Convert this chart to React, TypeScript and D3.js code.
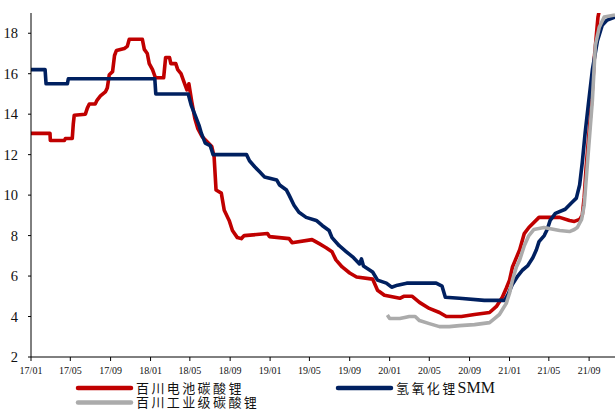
import React from "react";
import * as d3 from "d3";

// Lithium price series (万元/吨)
const batteryCarbonate: [string, number][] = [
  ["2017-01-01", 13.05], ["2017-02-28", 13.05], ["2017-03-01", 12.7], ["2017-04-13", 12.7],
  ["2017-04-16", 12.8], ["2017-05-07", 12.8], ["2017-05-10", 13.5], ["2017-05-13", 13.95],
  ["2017-06-16", 14.0], ["2017-06-22", 14.3], ["2017-06-28", 14.5], ["2017-07-16", 14.5],
  ["2017-07-22", 14.7], ["2017-08-01", 14.9], ["2017-08-16", 15.1], ["2017-08-22", 15.3],
  ["2017-08-28", 15.95], ["2017-09-07", 16.1], ["2017-09-13", 16.9], ["2017-09-19", 17.15],
  ["2017-10-13", 17.25], ["2017-10-22", 17.35], ["2017-10-28", 17.7], ["2017-12-07", 17.7],
  ["2017-12-13", 17.2], ["2017-12-22", 17.0], ["2017-12-28", 16.5], ["2018-01-07", 16.2],
  ["2018-01-16", 15.8], ["2018-02-10", 15.8], ["2018-02-16", 16.8], ["2018-02-28", 16.8],
  ["2018-03-04", 16.5], ["2018-03-19", 16.5], ["2018-03-25", 16.2], ["2018-04-04", 16.0],
  ["2018-04-13", 15.6], ["2018-04-22", 15.2], ["2018-04-28", 15.5], ["2018-05-07", 14.6],
  ["2018-05-16", 13.8], ["2018-05-25", 13.3], ["2018-06-07", 12.9], ["2018-06-19", 12.7],
  ["2018-07-07", 12.4], ["2018-07-14", 11.9], ["2018-07-20", 10.25], ["2018-08-05", 10.1],
  ["2018-08-14", 9.25], ["2018-08-29", 8.75], ["2018-09-08", 8.25], ["2018-09-23", 7.9],
  ["2018-10-05", 7.85], ["2018-10-14", 8.0], ["2018-11-21", 8.05], ["2018-12-24", 8.1],
  ["2018-12-30", 7.95], ["2019-02-28", 7.85], ["2019-03-09", 7.65], ["2019-05-09", 7.8],
  ["2019-05-31", 7.6], ["2019-06-21", 7.4], ["2019-07-09", 7.2], ["2019-07-21", 6.8],
  ["2019-08-09", 6.45], ["2019-09-01", 6.15], ["2019-09-22", 5.95], ["2019-11-10", 5.85],
  ["2019-11-25", 5.3], ["2019-12-16", 5.05], ["2020-01-01", 5.0], ["2020-02-01", 4.9],
  ["2020-02-13", 5.0], ["2020-03-10", 5.0], ["2020-04-01", 4.7], ["2020-05-01", 4.4],
  ["2020-06-01", 4.2], ["2020-06-22", 4.0], ["2020-08-07", 4.0], ["2020-09-16", 4.1],
  ["2020-11-01", 4.2], ["2020-11-22", 4.5], ["2020-12-10", 4.95], ["2020-12-22", 5.4],
  ["2021-01-01", 5.8], ["2021-01-10", 6.45], ["2021-01-19", 6.8], ["2021-02-01", 7.3],
  ["2021-02-15", 8.1], ["2021-03-01", 8.4], ["2021-04-01", 8.9], ["2021-06-03", 8.9],
  ["2021-07-03", 8.75], ["2021-07-18", 8.7], ["2021-08-03", 8.8], ["2021-08-11", 9.0],
  ["2021-08-17", 9.9], ["2021-08-23", 11.4], ["2021-09-08", 14.5], ["2021-09-17", 16.8],
  ["2021-09-28", 18.8], ["2021-10-07", 19.5],
];

const hydroxideSMM: [string, number][] = [
  ["2017-01-01", 16.2], ["2017-02-13", 16.2], ["2017-02-16", 15.5], ["2017-04-22", 15.5],
  ["2017-04-25", 15.75], ["2018-01-14", 15.75], ["2018-01-17", 15.0], ["2018-04-26", 15.0],
  ["2018-05-05", 14.45], ["2018-05-17", 13.95], ["2018-05-29", 13.45], ["2018-06-05", 13.06],
  ["2018-06-17", 12.57], ["2018-07-02", 12.45], ["2018-07-11", 12.0], ["2018-10-21", 12.0],
  ["2018-10-30", 11.7], ["2018-11-15", 11.4], ["2018-11-30", 11.15], ["2018-12-15", 10.9],
  ["2019-01-21", 10.75], ["2019-01-30", 10.5], ["2019-02-20", 10.25], ["2019-02-28", 10.0],
  ["2019-03-15", 9.5], ["2019-03-30", 9.15], ["2019-04-21", 8.9], ["2019-05-22", 8.75],
  ["2019-06-09", 8.5], ["2019-06-30", 8.25], ["2019-07-09", 7.9], ["2019-07-31", 7.5],
  ["2019-08-22", 7.2], ["2019-09-10", 6.95], ["2019-10-01", 6.6], ["2019-10-07", 6.85],
  ["2019-10-13", 6.5], ["2019-11-10", 6.2], ["2019-11-25", 5.8], ["2019-12-22", 5.65],
  ["2020-01-07", 5.45], ["2020-01-25", 5.55], ["2020-02-22", 5.65], ["2020-05-22", 5.65],
  ["2020-06-09", 5.5], ["2020-06-19", 4.95], ["2020-08-01", 4.9], ["2020-10-16", 4.8],
  ["2020-12-17", 4.8], ["2020-12-29", 5.15], ["2021-01-10", 5.6], ["2021-01-26", 6.0],
  ["2021-02-10", 6.3], ["2021-02-25", 6.5], ["2021-03-13", 6.9], ["2021-03-24", 7.3],
  ["2021-04-01", 7.7], ["2021-04-17", 8.0], ["2021-04-26", 8.3], ["2021-05-05", 8.75],
  ["2021-05-21", 9.1], ["2021-06-20", 9.3], ["2021-07-08", 9.6], ["2021-07-24", 9.85],
  ["2021-08-03", 10.5], ["2021-08-11", 11.6], ["2021-08-20", 13.1], ["2021-08-29", 14.4],
  ["2021-09-11", 16.2], ["2021-09-26", 17.6], ["2021-10-11", 18.4], ["2021-10-26", 18.65],
  ["2021-11-19", 18.8],
];

const industrialCarbonate: [string, number][] = [
  ["2019-12-25", 4.07], ["2020-01-01", 3.9], ["2020-02-01", 3.9], ["2020-02-16", 3.95],
  ["2020-03-01", 4.0], ["2020-03-19", 4.0], ["2020-04-01", 3.8], ["2020-05-01", 3.65],
  ["2020-06-01", 3.5], ["2020-07-01", 3.5], ["2020-08-01", 3.55], ["2020-09-16", 3.6],
  ["2020-11-01", 3.7], ["2020-11-16", 3.9], ["2020-12-01", 4.1], ["2020-12-22", 4.65],
  ["2021-01-01", 5.15], ["2021-01-10", 5.8], ["2021-01-22", 6.45], ["2021-02-01", 6.8],
  ["2021-02-15", 7.5], ["2021-03-01", 8.0], ["2021-03-16", 8.3], ["2021-04-16", 8.4],
  ["2021-06-03", 8.25], ["2021-07-03", 8.2], ["2021-07-18", 8.3], ["2021-07-27", 8.4],
  ["2021-08-09", 8.8], ["2021-08-17", 9.5], ["2021-08-26", 11.4], ["2021-09-11", 14.7],
  ["2021-09-20", 17.4], ["2021-10-02", 18.3], ["2021-10-17", 18.8], ["2021-11-19", 18.9],
];

const yTicks = [2, 4, 6, 8, 10, 12, 14, 16, 18];
const xTickDates = [
  "2017-01-01", "2017-05-01", "2017-09-01", "2018-01-01", "2018-05-01", "2018-09-01",
  "2019-01-01", "2019-05-01", "2019-09-01", "2020-01-01", "2020-05-01", "2020-09-01",
  "2021-01-01", "2021-05-01", "2021-09-01",
];

const seriesNames = ["百川电池碳酸锂", "氢氧化锂SMM", "百川工业级碳酸锂"];
const seriesColors = ["#C00000", "#002060", "#ABABAB"];

const parse = d3.timeParse("%Y-%m-%d");
const fmt = d3.timeFormat("%y/%m");

export default function App() {
  const W = 615;
  const H = 410;
  const left = 31;
  const right = 615;
  const top = 13;
  const bottom = 357;

  const x = d3
    .scaleTime()
    .domain([parse("2017-01-01")!, parse("2021-11-19")!])
    .range([left, right]);
  const y = d3.scaleLinear().domain([2, 19]).range([bottom, top]);

  const line = d3
    .line<[string, number]>()
    .x((d) => x(parse(d[0])!))
    .y((d) => y(d[1]));

  const series = [batteryCarbonate, hydroxideSMM, industrialCarbonate];
  const serif = "'Liberation Serif', 'Times New Roman', serif";
  const legendFont = "'Liberation Serif', 'Noto Sans CJK SC', serif";

  const legend = [
    { i: 0, lx: 78, ly: 388 },
    { i: 1, lx: 338, ly: 388 },
    { i: 2, lx: 78, ly: 402.5 },
  ];

  return (
    <svg
      width={W}
      height={H}
      style={{ position: "absolute", left: 0, top: 0, background: "#fff" }}
    >
      <defs>
        <clipPath id="plot">
          <rect x={left} y={top} width={right - left} height={bottom - top} />
        </clipPath>
      </defs>

      {/* series */}
      <g clipPath="url(#plot)">
        {series.map((s, i) => (
          <path
            key={i}
            d={line(s) ?? ""}
            fill="none"
            stroke={seriesColors[i]}
            strokeWidth={3.6}
            strokeLinejoin="round"
          />
        ))}
      </g>

      {/* y axis */}
      <line x1={left} x2={left} y1={top} y2={bottom} stroke="#000" strokeWidth={1} />
      {yTicks.map((t) => (
        <g key={t}>
          <line x1={left - 3} x2={left} y1={y(t)} y2={y(t)} stroke="#000" />
          <text
            x={18}
            y={y(t)}
            dy="0.35em"
            textAnchor="end"
            fontFamily={serif}
            fontSize={14.5}
            fill="#111"
          >
            {t}
          </text>
        </g>
      ))}

      {/* x axis */}
      <line x1={left} x2={right} y1={bottom} y2={bottom} stroke="#000" strokeWidth={1} />
      {xTickDates.map((s) => {
        const px = x(parse(s)!);
        return (
          <g key={s}>
            <line x1={px} x2={px} y1={bottom} y2={bottom + 4} stroke="#000" />
            <text
              x={px}
              y={374}
              textAnchor="middle"
              fontFamily={serif}
              fontSize={10}
              fill="#111"
            >
              {fmt(parse(s)!)}
            </text>
          </g>
        );
      })}

      {/* legend */}
      {legend.map(({ i, lx, ly }) => (
        <g key={i}>
          <line
            x1={lx}
            x2={lx + 53}
            y1={ly}
            y2={ly}
            stroke={seriesColors[i]}
            strokeWidth={4.5}
            strokeLinecap="round"
          />
          <text
            x={lx + 58}
            y={ly + 4.6}
            fontFamily={legendFont}
            fontSize={13}
            letterSpacing={2.4}
            fill="#111"
          >
            {i === 1 ? (
              <>
                氢氧化锂
                <tspan fontSize={16} letterSpacing={0}>
                  SMM
                </tspan>
              </>
            ) : (
              seriesNames[i]
            )}
          </text>
        </g>
      ))}
    </svg>
  );
}
